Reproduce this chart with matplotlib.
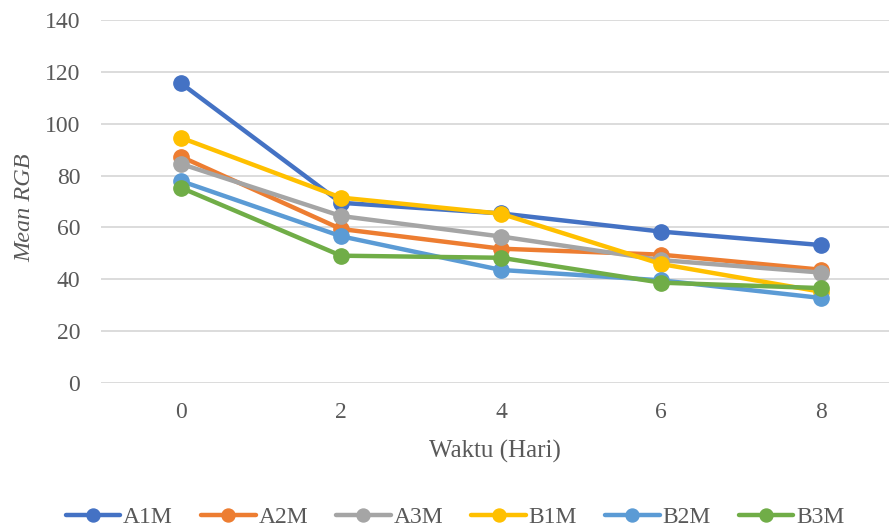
import matplotlib
matplotlib.use("Agg")
import matplotlib.pyplot as plt

days = ["0", "2", "4", "6", "8"]
series_names = ["A1M", "A2M", "A3M", "B1M", "B2M", "B3M"]
a1m = [115.6, 69.5, 65.4, 58.4, 53.2]
a2m = [87.3, 59.4, 51.8, 49.5, 43.7]
a3m = [84.5, 64.4, 56.5, 47.4, 42.6]
b1m = [94.6, 71.5, 65.3, 45.9, 35.2]
b2m = [77.9, 56.6, 43.6, 39.6, 32.8]
b3m = [75.3, 49.1, 48.3, 38.7, 36.6]
y_ticks = [0, 20, 40, 60, 80, 100, 120, 140]

colors = ["#4472C4", "#ED7D31", "#A5A5A5", "#FFC000", "#5B9BD5", "#70AD47"]
text_color = "#595959"

plt.rcParams["font.family"] = ["Liberation Serif", "DejaVu Serif"]

fig = plt.figure(figsize=(8.89, 5.31), dpi=100)
ax = fig.add_axes([101 / 889, 148 / 531, 788 / 889, 363 / 531])

x = list(range(len(days)))
for name, vals, c in zip(series_names, [a1m, a2m, a3m, b1m, b2m, b3m], colors):
    ax.plot(x, vals, color=c, lw=3.2, marker="o", markersize=11,
            solid_capstyle="round", label=name, clip_on=False)

ax.set_xlim(-0.5, (889 - 181) / 160)
ax.set_ylim(0, 140)
ax.set_yticks(y_ticks)
ax.set_xticks(x)
ax.set_xticklabels(days)
ax.grid(axis="y", color="#D9D9D9", lw=1.3)
ax.set_axisbelow(True)
for s in ax.spines.values():
    s.set_visible(False)
ax.tick_params(length=0, labelsize=17, colors=text_color)
ax.tick_params(axis="y", pad=15)
ax.tick_params(axis="x", pad=14)

ax.set_xlabel("Waktu (Hari)", fontsize=18, color=text_color, labelpad=12)
ax.set_ylabel("Mean RGB", fontsize=17.5, color=text_color, style="italic", labelpad=7)
ax.yaxis.label.set_y(0.483)

fig.legend(loc="center", bbox_to_anchor=(0.512, 1 - 517 / 531), ncol=6,
           frameon=False, fontsize=17, labelcolor=text_color, markerscale=0.85,
           handlelength=2.3, handletextpad=0.12, columnspacing=1.2)

fig.savefig("out.png", dpi=100)
